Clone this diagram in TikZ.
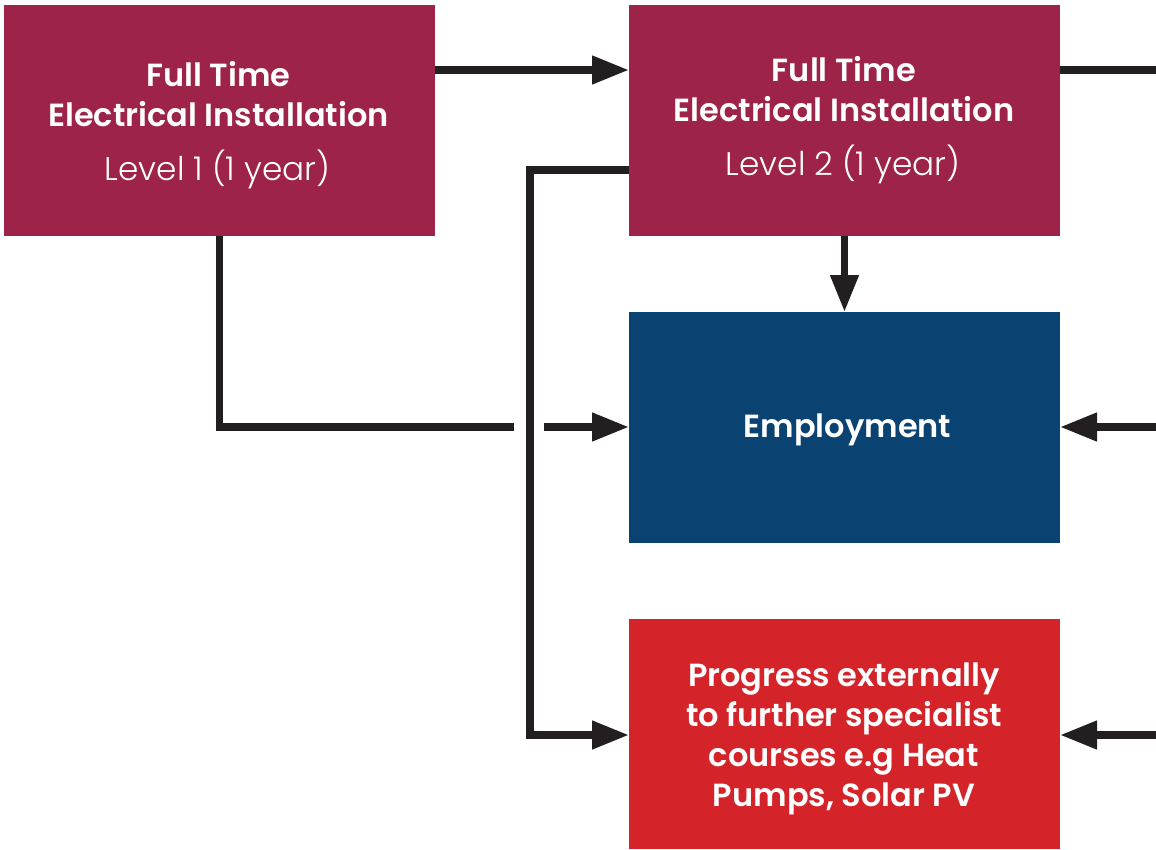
\documentclass[tikz,border=0pt]{standalone}
\usepackage{fontspec}
\setmainfont{Poppins}[BoldFont={Poppins SemiBold}]
\newfontfamily\lightfont{Poppins Light}
\usetikzlibrary{arrows.meta}
\definecolor{maroon}{HTML}{9E2348}
\definecolor{navy}{HTML}{0A4271}
\definecolor{brightred}{HTML}{D4242A}
\definecolor{ink}{HTML}{231F20}
\tikzset{
  box/.style={draw=none, minimum width=431pt, minimum height=231pt, inner sep=0pt, outer sep=0pt},
  bt/.style={text=white, anchor=base, inner sep=0pt, font=\bfseries\fontsize{32}{38}\selectfont},
  lt/.style={text=white, anchor=base, inner sep=0pt, font=\lightfont\fontsize{32.7}{38}\selectfont},
  conn/.style={draw=ink, line width=7.5pt, line join=miter},
  arr/.style={conn, -{Triangle[length=37pt,width=27pt]}}
}
\begin{document}
\begin{tikzpicture}[x=1pt,y=-1pt]
\useasboundingbox (0,0) rectangle (1156,849);
% boxes
\node[box, fill=maroon] (l1) at (219.5,120.5) {};
\node[box, fill=maroon] (l2) at (844.5,120.5) {};
\node[box, fill=navy] (emp) at (844.5,427.5) {};
\node[box, fill=brightred, minimum height=230pt] (prog) at (844.5,734) {};
% texts
\node[bt] (l1a) at (218.5,86) {Full Time};
\node[bt] (l1b) at (218.5,126) {Electrical Installation};
\node[lt] (l1c) at (217.5,180) {Level 1 (1 year)};
\node[bt] (l2a) at (844,81) {Full Time};
\node[bt] (l2b) at (844,121) {Electrical Installation};
\node[lt] (l2c) at (843,175) {Level 2 (1 year)};
\node[bt] (empt) at (847.5,437) {Employment};
\node[bt] (p1) at (844,686) {Progress externally};
\node[bt] (p2) at (844,726) {to further specialist};
\node[bt] (p3) at (844,766) {courses e.g Heat};
\node[bt] (p4) at (844,806) {Pumps, Solar PV};
% free ends and routing points
\coordinate (r1) at (1156,70);
\coordinate (r2) at (1156,427);
\coordinate (r3) at (1156,735);
\coordinate (gapL) at (514,427);
\coordinate (gapR) at (544,427);
\coordinate (vx) at (530,170);
% connectors
\draw[arr] (l1.east |- 0,70) -- (l2.west |- 0,70);
\draw[conn] (l2.east |- r1) -- (r1);
\draw[arr] (l2.south) -- (emp.north);
\draw[conn] (l1.south) -- (l1.south |- gapL) -- (gapL);
\draw[arr] (gapR) -- (emp.west |- gapR);
\draw[arr] (l2.west |- vx) -- (vx) -- (vx |- r3) -- (prog.west |- r3);
\draw[arr] (r2) -- (emp.east |- r2);
\draw[arr] (r3) -- (prog.east |- r3);
\end{tikzpicture}
\end{document}
